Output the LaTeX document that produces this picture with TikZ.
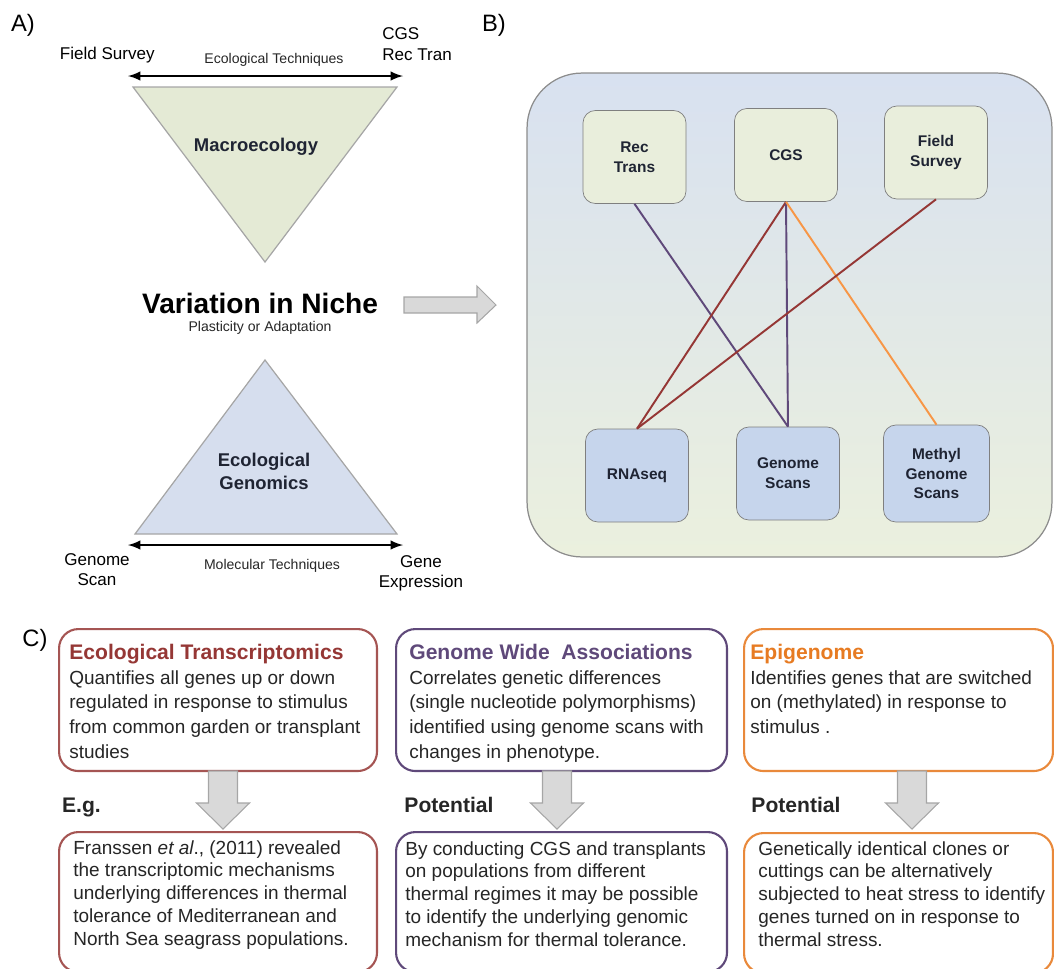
\documentclass[tikz,border=0pt]{standalone}
\usepackage{fontspec}
\setmainfont{Liberation Sans}
\usepackage{xcolor}
\usetikzlibrary{positioning}
\definecolor{trigreen}{HTML}{E4EAD5}
\definecolor{triblue}{HTML}{D6DEEE}
\definecolor{triline}{HTML}{A6A6A6}
\definecolor{bblue}{HTML}{D8E1F0}
\definecolor{bgreen}{HTML}{EBF0DE}
\definecolor{bline}{HTML}{8C8C8C}
\definecolor{topfill}{HTML}{E9EEDC}
\definecolor{botfill}{HTML}{C6D5EC}
\definecolor{boxline}{HTML}{7F7F7F}
\definecolor{trired}{HTML}{953735}
\definecolor{gwapurple}{HTML}{5F497A}
\definecolor{epiorange}{HTML}{E46C0A}
\definecolor{linkorange}{HTML}{F79646}
\definecolor{arrowfill}{HTML}{D9D9D9}
\definecolor{arrowline}{HTML}{A6A6A6}
\definecolor{bodygray}{HTML}{262626}
\definecolor{labink}{HTML}{1F2433}
\newcommand{\ctitlefont}{\fontsize{12}{14}\selectfont\bfseries}
\tikzstyle{panellab} = [font=\fontsize{13.5}{16}\selectfont]
\tikzstyle{smalllab} = [font=\fontsize{9.7}{12}\selectfont, inner sep=0pt]
\tikzstyle{tinylab} = [font=\fontsize{8}{10}\selectfont, text=bodygray]
\tikzstyle{trilab} = [font=\fontsize{10.5}{13}\selectfont\bfseries, text=labink, align=center]
\tikzstyle{tri} = [draw=triline, line width=0.7pt]
\tikzstyle{twoway} = [latex-latex, line width=1.4pt]
\tikzstyle{topbox} = [draw=boxline, fill=topfill, rounded corners=7pt,
minimum width=2.06cm, minimum height=1.86cm, align=center, text=labink,
font=\fontsize{8.8}{11.3}\selectfont\bfseries]
\tikzstyle{botbox} = [topbox, fill=botfill]
\tikzstyle{link} = [line width=1.1pt]
\tikzstyle{cbox} = [line width=1.2pt, fill=white, rounded corners=11pt, anchor=north west]
\tikzstyle{ctext} = [inner sep=0pt, anchor=north west, align=left, text=bodygray]
\tikzstyle{steplab} = [font=\fontsize{12}{14}\selectfont\bfseries, text=bodygray]
\tikzstyle{blockarrow} = [draw=arrowline, fill=arrowfill, line width=0.6pt]

\begin{document}
\begin{tikzpicture}[x=0.02cm, y=-0.02cm]
\useasboundingbox (0,0) rectangle (1054,968);

% A) niche triangles
\node[panellab] (labA) at (23,25) {A)};
\node[smalllab, anchor=east] (fieldlab) at (155,55) {Field Survey};
\node[smalllab, anchor=west, align=left] (cgslab) at (382,44) {CGS\\Rec Tran};
\node[tinylab] (ecotech) at (274,60) {Ecological Techniques};
\coordinate (ecoL) at (128,76);
\coordinate (ecoR) at (403,76);
\draw[twoway] (ecoL) -- (ecoR);
\draw[tri, fill=trigreen] (133,87) -- (397,87) -- (265,262) -- cycle;
\node[trilab] (macro) at (256,147) {Macroecology};

\node[font=\fontsize{16}{19}\selectfont\bfseries] (niche) at (260,303) {Variation in Niche};
\node[tinylab] (plast) at (260,328) {Plasticity or Adaptation};
\draw[blockarrow] (404,297) -- (477,297) -- (477,286) -- (496,305) -- (477,323)
  -- (477,313) -- (404,313) -- cycle;

\draw[tri, fill=triblue] (265,360) -- (397,534) -- (135,534) -- cycle;
\node[trilab] (ecogen) at (264,471.5) {Ecological\\Genomics};
\coordinate (molL) at (128,545);
\coordinate (molR) at (403,545);
\draw[twoway] (molL) -- (molR);
\node[smalllab, align=center, font=\fontsize{9.7}{11.4}\selectfont] (gscan) at (97,570) {Genome\\Scan};
\node[tinylab] (moltech) at (272,566) {Molecular Techniques};
\node[smalllab, align=center, font=\fontsize{9.7}{11.4}\selectfont] (gexpr) at (421,573) {Gene\\Expression};

% B) techniques
\node[panellab] (labB) at (494,25) {B)};
\node[draw=bline, line width=0.7pt, top color=bblue, bottom color=bgreen,
  rounded corners=1.1cm, minimum width=10.5cm, minimum height=9.68cm] (panelB) at (789.5,315) {};
\node[topbox] (rectrans) at (634.5,157) {Rec\\Trans};
\node[topbox] (cgs) at (786,155) {CGS};
\node[topbox] (fieldsurv) at (936,152.5) {Field\\Survey};
\node[botbox] (rnaseq) at (637,475.5) {RNAseq};
\node[botbox] (gscans) at (788,473.5) {Genome\\Scans};
\node[botbox, minimum width=2.12cm, minimum height=1.94cm] (methyl) at (936.5,473.5) {Methyl\\Genome\\Scans};
\draw[link, gwapurple] (rectrans.south) -- (gscans.north);
\draw[link, trired] (cgs.south) -- (rnaseq.north);
\draw[link, gwapurple] (cgs.south) -- (gscans.north);
\draw[link, linkorange] (cgs.south) -- (methyl.north);
\draw[link, trired] (fieldsurv.south) -- (rnaseq.north);

% C) approaches
\node[panellab] (labC) at (35,640) {C)};
\node[cbox, draw=trired!85, minimum width=6.36cm, minimum height=2.84cm] (transbox) at (58,628) {};
\node[cbox, draw=gwapurple, minimum width=6.62cm, minimum height=2.84cm] (gwabox) at (395,628) {};
\node[cbox, draw=epiorange!80, minimum width=6.18cm, minimum height=2.84cm] (epibox) at (743,628) {};
\node[ctext, font=\fontsize{10.8}{14}\selectfont] (transtxt) at ([shift={(11,16)}]transbox.north west)
  {{\ctitlefont\color{trired}Ecological Transcriptomics}\\
   Quantifies all genes up or down\\
   regulated in response to stimulus\\
   from common garden or transplant\\
   studies};
\node[ctext, font=\fontsize{10.8}{14}\selectfont] (gwatxt) at ([shift={(14,16)}]gwabox.north west)
  {{\ctitlefont\color{gwapurple}Genome Wide~~Associations}\\
   Correlates genetic differences\\
   (single nucleotide polymorphisms)\\
   identified using genome scans with\\
   changes in phenotype.};
\node[ctext, font=\fontsize{10.8}{14}\selectfont] (epitxt) at ([shift={(7,16)}]epibox.north west)
  {{\ctitlefont\color{epiorange!90}Epigenome}\\
   Identifies genes that are switched\\
   on (methylated) in response to\\
   stimulus .};

\draw[blockarrow] (208.5,771) -- (237.5,771) -- (237.5,803) -- (249.5,803) -- (223,829)
  -- (196.5,803) -- (208.5,803) -- cycle;
\draw[blockarrow] (542.5,771) -- (571.5,771) -- (571.5,803) -- (583.5,803) -- (557,829)
  -- (530.5,803) -- (542.5,803) -- cycle;
\draw[blockarrow] (897.5,771) -- (926.5,771) -- (926.5,803) -- (938.5,803) -- (912,829)
  -- (885.5,803) -- (897.5,803) -- cycle;
\node[steplab] (eglab) at (81.5,807) {E.g.};
\node[steplab] (gwalab) at (449,805) {Potential};
\node[steplab] (epilab) at (796,805) {Potential};

\node[cbox, draw=trired!85, minimum width=6.36cm, minimum height=2.8cm] (transex) at (58,831) {};
\node[cbox, draw=gwapurple, minimum width=6.62cm, minimum height=2.8cm] (gwaex) at (395,831) {};
\node[cbox, draw=epiorange!80, minimum width=6.18cm, minimum height=2.8cm] (epiex) at (743,832) {};
\node[ctext, font=\fontsize{10.8}{13}\selectfont] (transextxt) at ([shift={(15,9)}]transex.north west)
  {Franssen \textit{et al}., (2011) revealed\\
   the transcriptomic mechanisms\\
   underlying differences in thermal\\
   tolerance of Mediterranean and\\
   North Sea seagrass populations.};
\node[ctext, font=\fontsize{10.8}{13}\selectfont] (gwaextxt) at ([shift={(10,10)}]gwaex.north west)
  {By conducting CGS and transplants\\
   on populations from different\\
   thermal regimes it may be possible\\
   to identify the underlying genomic\\
   mechanism for thermal tolerance.};
\node[ctext, font=\fontsize{10.8}{13}\selectfont] (epiextxt) at ([shift={(15,9)}]epiex.north west)
  {Genetically identical clones or\\
   cuttings can be alternatively\\
   subjected to heat stress to identify\\
   genes turned on in response to\\
   thermal stress.};
\end{tikzpicture}
\end{document}
